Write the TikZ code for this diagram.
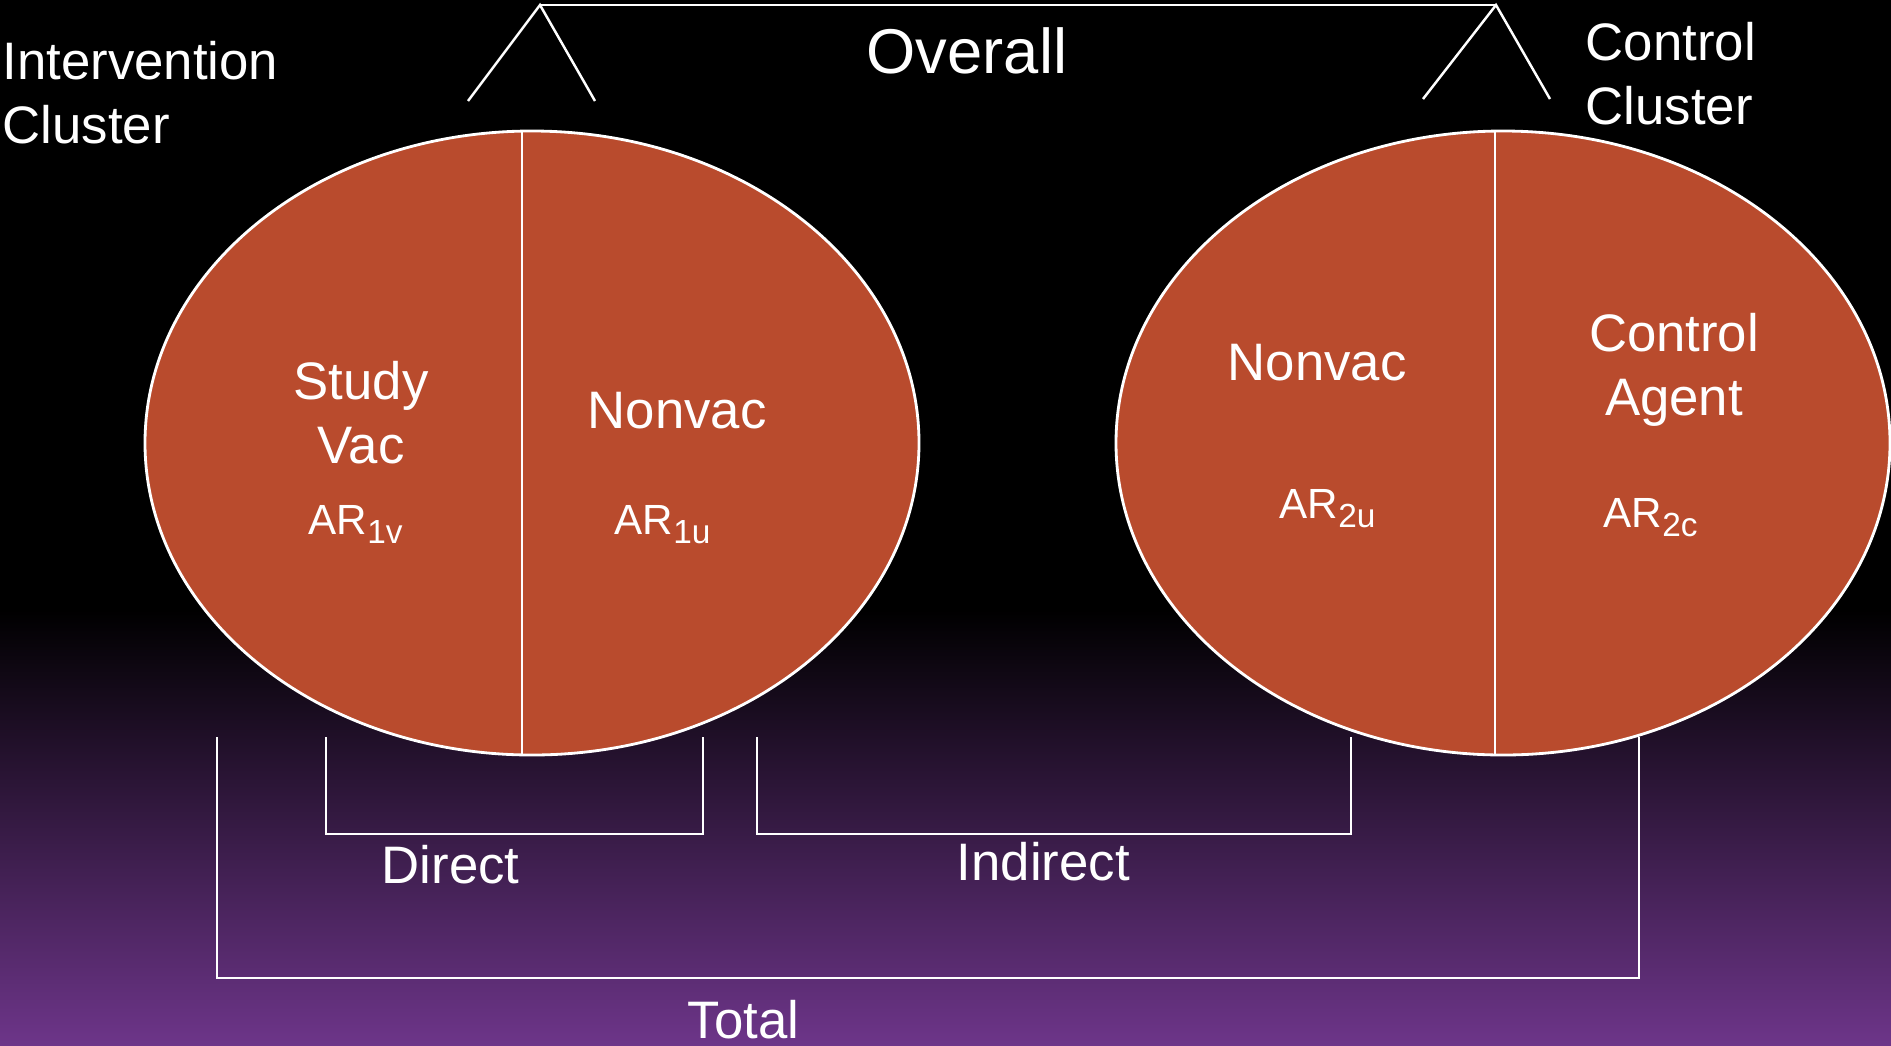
\documentclass[tikz,border=0pt]{standalone}
\usepackage{fontspec}
\setmainfont{Liberation Sans}
\definecolor{vacorange}{HTML}{B94B2D}
\definecolor{bgmid}{HTML}{4B2660}
\definecolor{bgpurple}{HTML}{6D3589}
\newcommand{\arsub}[1]{\raisebox{-0.09cm}{\fontsize{9.5}{11}\selectfont #1}}

\begin{document}
\begin{tikzpicture}[x=0.01cm, y=-0.01cm,
    txt/.style={text=white, inner sep=0pt, anchor=base west, font=\fontsize{15}{18.2}\selectfont},
    artxt/.style={text=white, inner sep=0pt, anchor=base west, font=\fontsize{12}{14}\selectfont},
    cluster/.style={draw=white, line width=0.8pt, fill=vacorange},
    bracket/.style={white, line width=0.7pt}]
           % Bakgrunn
           \useasboundingbox (0,0) rectangle (1891,1045);
           \fill[black] (0,0) rectangle (1891,610);
           \shade[top color=black, middle color=bgmid, bottom color=bgpurple] (0,610) rectangle (1891,1045);

           % Intervention cluster
           \draw[cluster] (532,443) ellipse [x radius=387, y radius=312];
           \begin{scope}
             \clip (532,443) ellipse [x radius=387, y radius=312];
             \draw[white, line width=0.5pt] (522,100) -- (522,800);
           \end{scope}
           \node[txt, align=center, anchor=base] (studyvac) at (361,463) {Study\\Vac};
           \node[artxt] (ar1v) at (308,534) {AR\arsub{1v}};
           \node[txt] (nonvac1) at (587,428) {Nonvac};
           \node[artxt] (ar1u) at (614,534) {AR\arsub{1u}};

           % Control cluster
           \draw[cluster] (1503,443) ellipse [x radius=387, y radius=312];
           \begin{scope}
             \clip (1503,443) ellipse [x radius=387, y radius=312];
             \draw[white, line width=0.5pt] (1495,100) -- (1495,800);
           \end{scope}
           \node[txt] (nonvac2) at (1227,380) {Nonvac};
           \node[artxt] (ar2u) at (1279,518) {AR\arsub{2u}};
           \node[txt, align=center, anchor=base] (ctrlagent) at (1674,415) {Control\\Agent};
           \node[artxt] (ar2c) at (1603,527) {AR\arsub{2c}};

           % Overall
           \draw[bracket] (468,101) -- (540,5) -- (595,101);
           \draw[bracket] (540,5) -- (1496,5);
           \draw[bracket] (1423,99) -- (1496,5) -- (1550,99);
           \node[txt, font=\fontsize{18}{21}\selectfont] (overall) at (866,73) {Overall};
           \node[txt, align=left] (intclust) at (2,143) {Intervention\\Cluster};
           \node[txt, align=left] (ctrlclust) at (1585,124) {Control\\Cluster};

           % Direct, indirect, total
           \draw[bracket] (326,737) -- (326,834) -- (703,834) -- (703,737);
           \draw[bracket] (757,737) -- (757,834) -- (1351,834) -- (1351,737);
           \draw[bracket] (217,737) -- (217,978) -- (1639,978) -- (1639,737);
           \node[txt] (direct) at (381,883) {Direct};
           \node[txt] (indirect) at (956,880) {Indirect};
           \node[txt] (total) at (687,1038) {Total};
         \end{tikzpicture}
\end{document}
